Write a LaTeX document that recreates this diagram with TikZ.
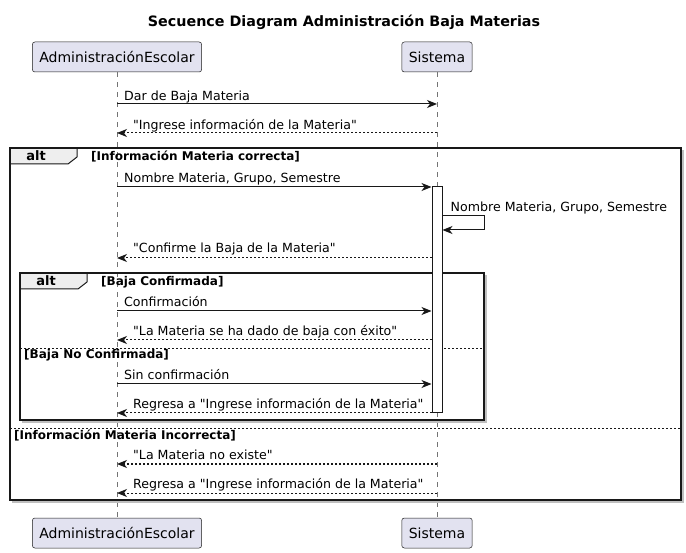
\documentclass[tikz,border=0pt]{standalone}
\usepackage{fontspec}
\setmainfont{DejaVu Sans}[Ligatures=TeXOff]
\usetikzlibrary{arrows.meta,positioning}
\definecolor{partFill}{HTML}{E2E2F0}
\definecolor{lineDark}{HTML}{181818}
\definecolor{tabFill}{HTML}{EEEEEE}
\tikzset{
  participant box/.style={draw=lineDark,fill=partFill,rounded corners=2.5pt,line width=0.5pt,minimum height=30pt,inner xsep=7pt,font=\fontsize{14}{16}\selectfont},
  lifeline/.style={draw=lineDark!60,line width=0.5pt,dash pattern=on 5pt off 5pt},
  activation box/.style={draw=lineDark,fill=white,line width=1pt,minimum width=10pt,inner sep=0pt},
  msg arrow/.style={-{Stealth[length=10pt,width=8pt,inset=3pt]},draw=lineDark,line width=1pt},
  return arrow/.style={msg arrow,dash pattern=on 2pt off 2pt},
  msg label/.style={anchor=base west,inner sep=0pt,font=\fontsize{12.6}{15}\selectfont},
  frame box/.style={draw=lineDark,line width=1.5pt},
  frame shadow/.style={draw=black!25,line width=2pt},
  frame tab/.style={draw=lineDark,fill=tabFill,line width=1pt},
  tab label/.style={anchor=base,inner sep=0pt,font=\bfseries\fontsize{13}{15}\selectfont},
  guard label/.style={anchor=base west,inner sep=0pt,font=\bfseries\fontsize{12}{14}\selectfont},
  else line/.style={draw=lineDark,line width=1pt,dash pattern=on 2pt off 2pt}
}
\begin{document}
\begin{tikzpicture}[x=1pt,y=-1pt]
  \useasboundingbox (0,0) rectangle (686,553);
  \node[anchor=base,font=\bfseries\fontsize{14.3}{16}\selectfont] (title) at (344,27) {Secuence Diagram Administración Baja Materias};

  % participants
  \node[participant box] (adminTop) at (117,57) {AdministraciónEscolar};
  \node[participant box] (sisTop) at (437,57) {Sistema};
  \node[participant box] (adminBot) at (117,533) {AdministraciónEscolar};
  \node[participant box] (sisBot) at (437,533) {Sistema};
  \draw[lifeline] (adminTop) -- (adminBot);
  \draw[lifeline] (sisTop) -- (sisBot);

  % message levels on the admin lifeline
  \coordinate (m1) at (117,104);
  \coordinate (m2) at (117,133);
  \coordinate (m3) at (117,187);
  \coordinate (s1) at (117,216);
  \coordinate (s2) at (117,230);
  \coordinate (m4) at (117,258);
  \coordinate (m5) at (117,311);
  \coordinate (m6) at (117,340);
  \coordinate (m7) at (117,384);
  \coordinate (m8) at (117,413);
  \coordinate (m9) at (117,464);
  \coordinate (m10) at (117,493);

  % outer alt
  \draw[frame shadow] (683,150) -- (683,502) -- (12,502);
  \draw[frame tab] (10,148) -- (77,148) -- (77,157) -- (68,164) -- (10,164) -- cycle;
  \draw[frame box] (10,148) rectangle (681,500);
  \node[tab label] (altOuter) at (36,161) {alt};
  \node[guard label] (guardOk) at (91,161) {[Información Materia correcta]};
  \draw[else line] (10,429) -- (681,429);
  \node[guard label] (guardBad) at (14,440) {[Información Materia Incorrecta]};

  % inner alt
  \draw[frame shadow] (486,275) -- (486,422) -- (22,422);
  \draw[frame tab] (20,273) -- (87,273) -- (87,282) -- (78,289) -- (20,289) -- cycle;
  \draw[frame box] (20,273) rectangle (484,420);
  \node[tab label] (altInner) at (46,286) {alt};
  \node[guard label] (guardYes) at (101,286) {[Baja Confirmada]};
  \draw[else line] (20,349) -- (484,349);
  \node[guard label] (guardNo) at (24,359) {[Baja No Confirmada]};

  \node[activation box,minimum height=226pt] (act) at (437,300) {};

  % messages
  \draw[msg arrow] (m1) -- (m1 -| sisTop);
  \node[msg label] (l1) at ([xshift=7pt,yshift=3pt]m1) {Dar de Baja Materia};
  \draw[return arrow] (m2 -| sisTop) -- (m2);
  \node[msg label] (l2) at ([xshift=16pt,yshift=3pt]m2) {"Ingrese información de la Materia"};
  \draw[msg arrow] (m3) -- (m3 -| act.west);
  \node[msg label] (l3) at ([xshift=7pt,yshift=4pt]m3) {Nombre Materia, Grupo, Semestre};
  \draw[msg arrow] (s1 -| act.east) -- ++(42,0) |- (s2 -| act.east);
  \node[msg label] (ls) at ([xshift=8pt,yshift=4pt]s1 -| act.east) {Nombre Materia, Grupo, Semestre};
  \draw[return arrow] (m4 -| act.west) -- (m4);
  \node[msg label] (l4) at ([xshift=16pt,yshift=5pt]m4) {"Confirme la Baja de la Materia"};
  \draw[msg arrow] (m5) -- (m5 -| act.west);
  \node[msg label] (l5) at ([xshift=7pt,yshift=4pt]m5) {Confirmación};
  \draw[return arrow] (m6 -| act.west) -- (m6);
  \node[msg label] (l6) at ([xshift=16pt,yshift=4pt]m6) {"La Materia se ha dado de baja con éxito"};
  \draw[msg arrow] (m7) -- (m7 -| act.west);
  \node[msg label] (l7) at ([xshift=7pt,yshift=4pt]m7) {Sin confirmación};
  \draw[return arrow] (m8 -| act.west) -- (m8);
  \node[msg label] (l8) at ([xshift=16pt,yshift=4pt]m8) {Regresa a "Ingrese información de la Materia"};
  \draw[return arrow] (m9 -| sisTop) -- (m9);
  \node[msg label] (l9) at ([xshift=16pt,yshift=4pt]m9) {"La Materia no existe"};
  \draw[return arrow] (m10 -| sisTop) -- (m10);
  \node[msg label] (l10) at ([xshift=16pt,yshift=4pt]m10) {Regresa a "Ingrese información de la Materia"};
\end{tikzpicture}
\end{document}
